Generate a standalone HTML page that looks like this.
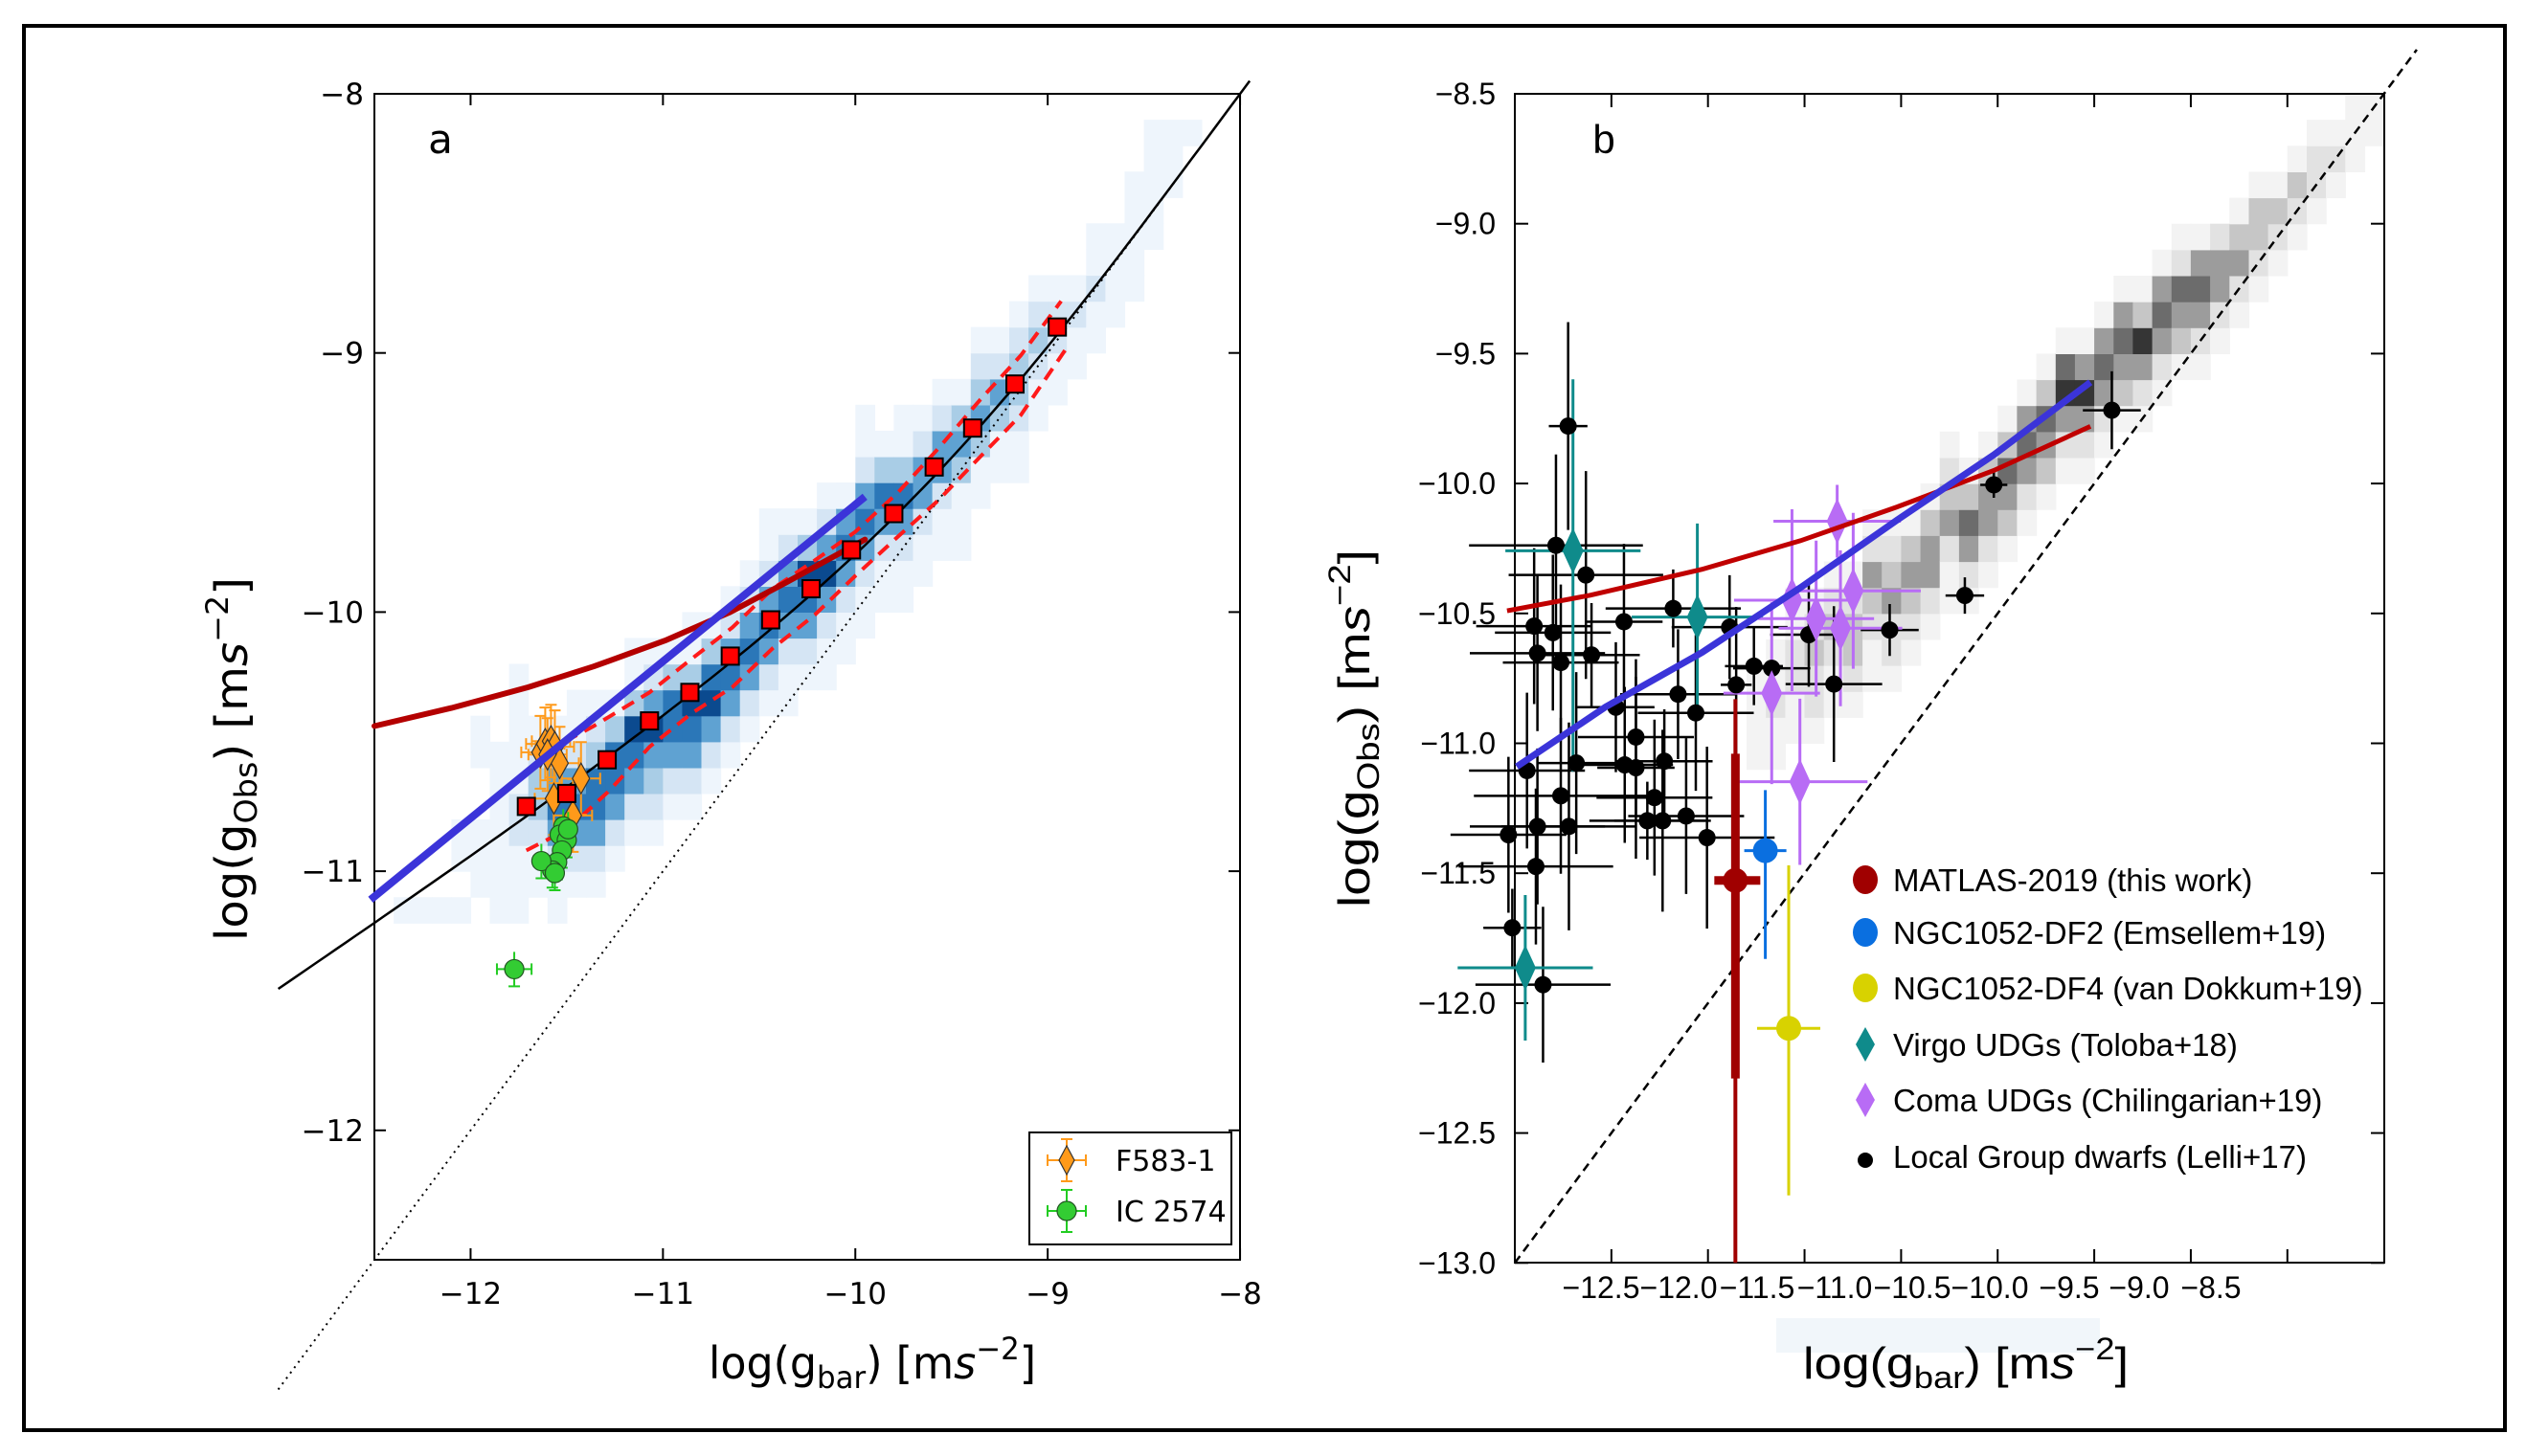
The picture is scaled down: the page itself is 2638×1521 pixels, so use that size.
<!DOCTYPE html>
<html><head><meta charset="utf-8"><title>Radial acceleration relation</title>
<style>
html,body{margin:0;padding:0;background:#fff;}
svg{display:block;}
.ta{font-family:"DejaVu Sans","Liberation Sans",sans-serif;}
.tb{font-family:"Liberation Sans","DejaVu Sans",sans-serif;}
</style></head>
<body>
<svg id="fig" width="2638" height="1521" viewBox="0 0 2638 1521">
<rect x="0" y="0" width="2638" height="1521" fill="#fff"/>
<rect x="25" y="27" width="2591" height="1467" fill="none" stroke="#000" stroke-width="4"/>
<defs>
<clipPath id="clipA"><rect x="391" y="98" width="904" height="1218"/></clipPath>
</defs>
<g id="gA">
 <g id="heatA" clip-path="url(#clipA)"></g>
 <rect x="391" y="98" width="904" height="1218" fill="none" stroke="#000" stroke-width="2"/>
 <text class="ta" x="460" y="160" font-size="42" text-anchor="middle">a</text>
 <text class="ta" x="911" y="1440" font-size="46" text-anchor="middle" textLength="342" lengthAdjust="spacingAndGlyphs">log(g<tspan font-size="32" dy="10">bar</tspan><tspan dy="-10">) [m</tspan><tspan font-style="italic">s</tspan><tspan font-size="32" dy="-20">−2</tspan><tspan dy="20">]</tspan></text>
 <text class="ta" transform="translate(258,793) rotate(-90)" font-size="46" text-anchor="middle" textLength="380" lengthAdjust="spacingAndGlyphs">log(g<tspan font-size="32" dy="10">Obs</tspan><tspan dy="-10">) [m</tspan><tspan font-style="italic">s</tspan><tspan font-size="32" dy="-20">−2</tspan><tspan dy="20">]</tspan></text>
 <g id="legA">
  <rect x="1075" y="1183" width="211" height="117" fill="#fff" stroke="#000" stroke-width="2"/>
  <text class="ta" x="1165" y="1223" font-size="30">F583-1</text>
  <text class="ta" x="1165" y="1276" font-size="30">IC 2574</text>
 </g>
</g>
<g id="gB">
 <g id="heatB"></g>
 <rect x="1582" y="98" width="908" height="1221" fill="none" stroke="#000" stroke-width="2"/>
 <text class="tb" x="1675" y="160" font-size="42" text-anchor="middle">b</text>
 <rect x="1855" y="1377" width="338" height="36" fill="#f1f6fa"/>
 <text class="tb" x="2053" y="1440" font-size="46" text-anchor="middle" textLength="340" lengthAdjust="spacingAndGlyphs">log(g<tspan font-size="32" dy="10">bar</tspan><tspan dy="-10">) [m</tspan><tspan font-style="italic">s</tspan><tspan font-size="32" dy="-20">−2</tspan><tspan dy="20">]</tspan></text>
 <text class="tb" transform="translate(1430,761) rotate(-90)" font-size="46" text-anchor="middle" textLength="374" lengthAdjust="spacingAndGlyphs">log(g<tspan font-size="32" dy="10">Obs</tspan><tspan dy="-10">) [m</tspan><tspan font-style="italic">s</tspan><tspan font-size="32" dy="-20">−2</tspan><tspan dy="20">]</tspan></text>
 <g id="legB"></g>
</g>
</svg>
<script>
// ---------- Panel A data ----------
const aXTicks = [-12, -11, -10, -9, -8];
const aYTicks = [-8, -9, -10, -11, -12];
const binX = [-12.4,-12.3,-12.2,-12.1,-12.0,-11.9,-11.8,-11.7,-11.6,-11.5,-11.4,-11.3,-11.2,-11.1,-11.0,-10.9,-10.8,-10.7,-10.6,-10.5,-10.4,-10.3,-10.2,-10.1,-10.0,-9.9,-9.8,-9.7,-9.6,-9.5,-9.4,-9.3,-9.2,-9.1,-9.0,-8.9,-8.8,-8.7,-8.6,-8.5,-8.4,-8.3];
const binY0 = [-11.2,-11.2,-11.2,-11.2,-11.1,-11.2,-11.2,-11.1,-11.2,-11.1,-11.1,-11.0,-10.9,-10.9,-10.8,-10.8,-10.7,-10.6,-10.5,-10.4,-10.4,-10.3,-10.3,-10.2,-10.1,-10.0,-10.0,-9.9,-9.8,-9.8,-9.6,-9.5,-9.5,-9.3,-9.2,-9.1,-9.0,-8.9,-8.8,-8.6,-8.4,-8.3];
const binLevels = ["1","1","1","1011","1110011","1111111","1112211111","1123321","11245421","12454211","12455321","1245531","12456311","12346421","1245531","12456311","1246531","1245421","1245421","12454211","11245421","1245631","11246421","1124541","112454211","1124531","11245311","1124421","1124421","1113431","1134321","113421","1123321","112321","11221","1121","11211","1111","11111","11111","111","01"];
const sqX = [-11.71,-11.50,-11.29,-11.07,-10.86,-10.65,-10.44,-10.23,-10.02,-9.80,-9.59,-9.39,-9.17,-8.95];
const sqY = [-10.75,-10.70,-10.57,-10.42,-10.31,-10.17,-10.03,-9.91,-9.76,-9.62,-9.44,-9.29,-9.12,-8.90];
const upX = [-11.61,-11.36,-11.07,-10.85,-10.64,-10.43,-10.21,-10.00,-9.78,-9.57,-9.35,-9.14,-8.93];
const upY = [-10.54,-10.44,-10.31,-10.18,-10.06,-9.91,-9.80,-9.69,-9.54,-9.37,-9.18,-9.01,-8.80];
const loX = [-11.71,-11.50,-11.28,-11.07,-10.85,-10.64,-10.43,-10.21,-10.00,-9.78,-9.57,-9.35,-9.14,-8.91];
const loY = [-10.92,-10.84,-10.69,-10.52,-10.39,-10.29,-10.14,-10.01,-9.86,-9.71,-9.57,-9.40,-9.24,-8.99];
const redAX = [-12.5,-12.1,-11.7,-11.36,-10.99,-10.65,-10.37,-9.95];
const redAY = [-10.44,-10.37,-10.29,-10.21,-10.11,-10.00,-9.89,-9.72];
const blueAX = [-12.52,-9.95];
const blueAY = [-11.11,-9.555];
const orX = [-11.637,-11.612,-11.582,-11.562,-11.537,-11.567,-11.426,-11.468,-11.600];
const orY = [-10.541,-10.509,-10.498,-10.520,-10.583,-10.720,-10.642,-10.785,-10.550];
const grX = [-11.518,-11.537,-11.500,-11.525,-11.550,-11.575,-11.632,-11.562,-11.493,-11.773];
const grY = [-10.827,-10.859,-10.880,-10.920,-10.965,-10.997,-10.961,-11.007,-10.838,-11.378];
const grXerr = [0.04,0.04,0.04,0.04,0.04,0.04,0.04,0.04,0.04,0.09];
const gDagger = 1.2e-10;

// ---------- Panel B data ----------
const bYTicks = [-8.5,-9.0,-9.5,-10.0,-10.5,-11.0,-11.5,-12.0,-12.5,-13.0];
const bXTicks = [-12.5,-12.0,-11.5,-11.0,-10.5,-10.0,-9.5,-9.0];
const bXLabels = ["−12.5","−12.0","−11.5","−11.0","−10.5","−10.0","−9.5","−9.0","−8.5"];
const gbX = [-11.8,-11.7,-11.6,-11.5,-11.4,-11.3,-11.2,-11.1,-11.0,-10.9,-10.8,-10.7,-10.6,-10.5,-10.4,-10.3,-10.2,-10.1,-10.0,-9.9,-9.8,-9.7,-9.6,-9.5,-9.4,-9.3,-9.2,-9.1,-9.0,-8.9,-8.8,-8.7,-8.6];
const gbY0 = [-11.1,-11.1,-11.0,-11.0,-10.9,-10.9,-10.8,-10.8,-10.7,-10.6,-10.5,-10.5,-10.4,-10.3,-10.2,-10.1,-10.0,-10.0,-9.9,-9.8,-9.8,-9.7,-9.6,-9.6,-9.5,-9.4,-9.3,-9.2,-9.1,-9.0,-8.9,-8.8,-8.7];
const gbLevels = ["1111","11211","112211","122321","112321","123321","1123421","1224321","123431","124431","1124321","124531","124431","134531","124541","134531","124651","124641","124541","134541","124631","124541","134521","124541","12442","12431","12331","1231","1231","1221","121","111","11"];
const redBX = [-13.04,-12.61,-12.03,-11.52,-11.02,-10.52,-10.02];
const redBY = [-10.49,-10.43,-10.33,-10.22,-10.09,-9.95,-9.78];
const blueBX = [-12.99,-12.53,-12.03,-11.52,-11.02,-10.52,-10.02];
const blueBY = [-11.09,-10.86,-10.65,-10.40,-10.14,-9.89,-9.61];
const lgX = [-12.724,-12.787,-12.632,-12.900,-12.803,-12.883,-12.762,-12.603,-12.435,-12.180,-11.888,-12.477,-12.373,-12.431,-12.373,-12.226,-12.155,-12.063,-12.277,-12.314,-12.235,-12.113,-12.005,-12.762,-12.883,-12.720,-13.033,-12.891,-13.013,-12.854,-12.937,-12.682,-11.854,-11.762,-11.670,-11.478,-11.348,-11.059,-10.670,-10.520,-9.909];
const lgY = [-9.779,-10.238,-10.352,-10.549,-10.574,-10.653,-10.689,-10.660,-10.532,-10.481,-10.553,-10.861,-10.976,-11.083,-11.094,-11.069,-10.811,-10.883,-11.209,-11.298,-11.298,-11.280,-11.363,-11.202,-11.320,-11.320,-11.352,-11.474,-11.710,-11.929,-11.105,-11.076,-10.775,-10.703,-10.711,-10.582,-10.772,-10.564,-10.431,-10.005,-9.718];
const lgXerr = [0.10,0.45,0.40,0.30,0.30,0.35,0.30,0.25,0.20,0.35,0.30,0.20,0.30,0.25,0.20,0.25,0.30,0.30,0.30,0.30,0.25,0.30,0.35,0.45,0.35,0.35,0.30,0.40,0.15,0.35,0.30,0.20,0.08,0.15,0.20,0.20,0.25,0.15,0.10,0.07,0.15];
const lgYerr = [0.40,0.35,0.40,0.30,0.30,0.30,0.30,0.20,0.30,0.15,0.20,0.25,0.30,0.30,0.35,0.20,0.25,0.30,0.30,0.15,0.35,0.30,0.35,0.30,0.30,0.40,0.30,0.30,0.15,0.30,0.30,0.35,0.30,0.15,0.15,0.20,0.30,0.10,0.07,0.05,0.15];
const virX = [-12.699,-12.055,-12.946];
const virY = [-10.259,-10.514,-11.864];
const virXerr = [0.35,0.34,0.35];
const virYup = [0.66,0.36,0.28];
const virYdn = [0.85,0.36,0.28];
const comX = [-11.331,-11.565,-11.248,-11.440,-11.314,-11.670,-11.524];
const comY = [-10.145,-10.449,-10.413,-10.520,-10.557,-10.807,-11.148];
const comXerr = [0.33,0.30,0.35,0.30,0.32,0.25,0.35];
const comYerr = [0.14,0.35,0.30,0.30,0.30,0.35,0.32];
const matX = [-11.858], matY = [-11.528];
const df2X = [-11.703], df2Y = [-11.413];
const df4X = [-11.582], df4Y = [-12.097];
const legBLabels = ["MATLAS-2019 (this work)","NGC1052-DF2 (Emsellem+19)","NGC1052-DF4 (van Dokkum+19)","Virgo UDGs (Toloba+18)","Coma UDGs (Chilingarian+19)","Local Group dwarfs (Lelli+17)"];

// ---------- helpers ----------
const svg = document.getElementById('fig');
const NS = svg.namespaceURI;
function mk(tag, attrs, parent){ const e=document.createElementNS(NS,tag); for(const k in attrs) e.setAttribute(k, attrs[k]); (parent||svg).appendChild(e); return e; }
const xa = v => 391 + (v + 12.5) * 200.9;
const ya = v => 98 + (-8 - v) * 270.7;
const xb = v => 1582 + (v + 13) * 201.7;
const yb = v => 98 + (-8.5 - v) * 271.4;
function pts(xs, ys, fx, fy){ return xs.map((x,i)=>fx(x).toFixed(1)+','+fy(ys[i]).toFixed(1)).join(' '); }

const gA = document.getElementById('gA');
const gB = document.getElementById('gB');
const heatA = document.getElementById('heatA');
const heatB = document.getElementById('heatB');
const legA = document.getElementById('legA');
const legB = document.getElementById('legB');

// ---------- Panel A heatmap ----------
const blues = ["#ffffff","#eef5fc","#d5e5f4","#a9cde6","#5fa2d2","#2b77b8","#0b4a8f"];
binX.forEach((x,i)=>{
  const s = binLevels[i];
  for(let k=0;k<s.length;k++){
    const lv = +s[k]; if(!lv) continue;
    const y0 = binY0[i] + 0.1*k;
    const c = mk('rect',{x:xa(x).toFixed(1), y:ya(y0+0.1).toFixed(1), width:(0.1*200.9+0.6).toFixed(1), height:(0.1*270.7+0.6).toFixed(1), fill:blues[lv]}, heatA);
    
    
  }
});

// ticks A
const tkA = mk('g',{stroke:'#000','stroke-width':2}, gA);


aXTicks.forEach(v=>{
  const t1 = mk('line',{x1:xa(v),x2:xa(v),y1:1316,y2:1304}, tkA);
  
  
  const t2 = mk('line',{x1:xa(v),x2:xa(v),y1:98,y2:110}, tkA);
  
  
  const l = mk('text',{x:xa(v), y:1362, 'font-size':31, 'text-anchor':'middle', class:'ta'}, gA);
  l.textContent = '−' + Math.abs(v);
  
  
});
aYTicks.forEach(v=>{
  const t1 = mk('line',{x1:391,x2:403,y1:ya(v),y2:ya(v)}, tkA);
  
  
  const t2 = mk('line',{x1:1295,x2:1283,y1:ya(v),y2:ya(v)}, tkA);
  
  
  const l = mk('text',{x:380, y:ya(v)+11, 'font-size':31, 'text-anchor':'end', class:'ta'}, gA);
  l.textContent = '−' + Math.abs(v);
  
  
});

// 1:1 dotted line A
const oneA = mk('line',{x1:xa(-13),y1:ya(-13),x2:xa(-8),y2:ya(-8),stroke:'#000','stroke-width':2,'stroke-dasharray':'2,5'}, gA);



// RAR model curve
const rarX = []; for(let v=-13.0; v<=-7.93; v+=0.05) rarX.push(v);
const rarY = rarX.map(v=>{ const g=Math.pow(10,v); return Math.log10(g/(1-Math.exp(-Math.sqrt(g/gDagger)))); });
const rar = mk('polyline',{points:pts(rarX,rarY,xa,ya),fill:'none',stroke:'#000','stroke-width':2.5}, gA);



// dashed scatter lines
const upL = mk('polyline',{points:pts(upX,upY,xa,ya),fill:'none',stroke:'#ff1a1a','stroke-width':4,'stroke-dasharray':'14,9'}, gA);


const loL = mk('polyline',{points:pts(loX,loY,xa,ya),fill:'none',stroke:'#ff1a1a','stroke-width':4,'stroke-dasharray':'14,9'}, gA);



// orange F583-1
orX.forEach((x,i)=>{
  const cx=xa(x), cy=ya(orY[i]);
  const e = mk('path',{d:`M${cx-20},${cy}H${cx+20}M${cx-20},${cy-6}V${cy+6}M${cx+20},${cy-6}V${cy+6}M${cx},${cy-38}V${cy+38}M${cx-6},${cy-38}H${cx+6}M${cx-6},${cy+38}H${cx+6}`,stroke:'#ff9a1a','stroke-width':2,fill:'none'}, gA);
  
  
});
orX.forEach((x,i)=>{
  const cx=xa(x), cy=ya(orY[i]);
  const m = mk('path',{d:`M${cx},${cy-16}L${cx+9},${cy}L${cx},${cy+16}L${cx-9},${cy}Z`,fill:'#ff9a1a',stroke:'#333','stroke-width':1.2}, gA);
  
  
});
// green IC 2574
grX.forEach((x,i)=>{
  const cx=xa(x), cy=ya(grY[i]), dx=grXerr[i]*200.9;
  const e = mk('path',{d:`M${cx-dx},${cy}H${cx+dx}M${cx-dx},${cy-6}V${cy+6}M${cx+dx},${cy-6}V${cy+6}M${cx},${cy-18}V${cy+18}M${cx-6},${cy+18}H${cx+6}`,stroke:'#22cc22','stroke-width':2,fill:'none'}, gA);
  
  
});
grX.forEach((x,i)=>{
  const m = mk('circle',{cx:xa(x),cy:ya(grY[i]),r:10,fill:'#33cc33',stroke:'#225522','stroke-width':1.2}, gA);
  
  
});

// red and blue curves A
const redA = mk('polyline',{points:pts(redAX,redAY,xa,ya),fill:'none',stroke:'#b40000','stroke-width':6,'stroke-linecap':'round','stroke-linejoin':'round'}, gA);


const blueA = mk('polyline',{points:pts(blueAX,blueAY,xa,ya),fill:'none',stroke:'#3b34d9','stroke-width':8}, gA);



// red squares
sqX.forEach((x,i)=>{
  const s = mk('rect',{x:xa(x)-9,y:ya(sqY[i])-9,width:18,height:18,fill:'#ff0000',stroke:'#000','stroke-width':2}, gA);
  
  
});

// legend A markers
{
  const cx=1114, cy=1212;
  const e1 = mk('path',{d:`M${cx-20},${cy}H${cx+20}M${cx-20},${cy-6}V${cy+6}M${cx+20},${cy-6}V${cy+6}M${cx},${cy-22}V${cy+22}M${cx-6},${cy-22}H${cx+6}M${cx-6},${cy+22}H${cx+6}`,stroke:'#ff9a1a','stroke-width':2,fill:'none'}, legA);
  
  
  const m1 = mk('path',{d:`M${cx},${cy-15}L${cx+8},${cy}L${cx},${cy+15}L${cx-8},${cy}Z`,fill:'#ff9a1a',stroke:'#333','stroke-width':1.2}, legA);
  
  
  const cy2=1265;
  const e2 = mk('path',{d:`M${cx-20},${cy2}H${cx+20}M${cx-20},${cy2-6}V${cy2+6}M${cx+20},${cy2-6}V${cy2+6}M${cx},${cy2-22}V${cy2+22}M${cx-6},${cy2-22}H${cx+6}M${cx-6},${cy2+22}H${cx+6}`,stroke:'#22cc22','stroke-width':2,fill:'none'}, legA);
  
  
  const m2 = mk('circle',{cx:cx,cy:cy2,r:10,fill:'#33cc33',stroke:'#225522','stroke-width':1.2}, legA);
  
  
}

// ---------- Panel B ----------
const greys = ["#ffffff","#f3f3f3","#e2e2e2","#c6c6c6","#9c9c9c","#6c6c6c","#353535"];
gbX.forEach((x,i)=>{
  const s = gbLevels[i];
  for(let k=0;k<s.length;k++){
    const lv=+s[k]; if(!lv) continue;
    const y0 = gbY0[i] + 0.1*k;
    const c = mk('rect',{x:xb(x).toFixed(1), y:yb(y0+0.1).toFixed(1), width:(0.1*201.7+0.6).toFixed(1), height:(0.1*271.4+0.6).toFixed(1), fill:greys[lv]}, heatB);
    
    
  }
});

const tkB = mk('g',{stroke:'#000','stroke-width':2}, gB);


bXTicks.forEach(v=>{
  const t1 = mk('line',{x1:xb(v),x2:xb(v),y1:1319,y2:1305}, tkB);
  
  
  const t2 = mk('line',{x1:xb(v),x2:xb(v),y1:98,y2:112}, tkB);
  
  
});
const bXLabelCenters = [1672,1753,1835,1916,1997,2078,2161,2234,2309];
bXLabels.forEach((s,i)=>{
  const l = mk('text',{x:bXLabelCenters[i], y:1356, 'font-size':32, 'text-anchor':'middle', class:'tb'}, gB);
  l.textContent = s;
  
  
});
bYTicks.forEach(v=>{
  const t1 = mk('line',{x1:1582,x2:1596,y1:yb(v),y2:yb(v)}, tkB);
  
  
  const t2 = mk('line',{x1:2490,x2:2476,y1:yb(v),y2:yb(v)}, tkB);
  
  
  const l = mk('text',{x:1562, y:yb(v)+11, 'font-size':32, 'text-anchor':'end', class:'tb'}, gB);
  l.textContent = '−' + Math.abs(v).toFixed(1);
  
  
});

const oneB = mk('line',{x1:xb(-13),y1:yb(-13),x2:xb(-8.33),y2:yb(-8.33),stroke:'#000','stroke-width':2.5,'stroke-dasharray':'9,6'}, gB);



// black local group points
lgX.forEach((x,i)=>{
  const cx=xb(x), cy=yb(lgY[i]), dx=lgXerr[i]*201.7, dy=lgYerr[i]*271.4;
  const e = mk('path',{d:`M${cx-dx},${cy}H${cx+dx}M${cx},${cy-dy}V${cy+dy}`,stroke:'#000','stroke-width':2.5,fill:'none'}, gB);
  
  
});
// virgo
virX.forEach((x,i)=>{
  const cx=xb(x), cy=yb(virY[i]), dx=virXerr[i]*201.7;
  const e = mk('path',{d:`M${cx-dx},${cy}H${cx+dx}M${cx},${cy-virYup[i]*271.4}V${cy+virYdn[i]*271.4}`,stroke:'#0f8b8b','stroke-width':3,fill:'none'}, gB);
  
  
});
// coma
comX.forEach((x,i)=>{
  const cx=xb(x), cy=yb(comY[i]), dx=comXerr[i]*201.7, dy=comYerr[i]*271.4;
  const e = mk('path',{d:`M${cx-dx},${cy}H${cx+dx}M${cx},${cy-dy}V${cy+dy}`,stroke:'#b86cf5','stroke-width':3,fill:'none'}, gB);
  
  
});
lgX.forEach((x,i)=>{
  const m = mk('circle',{cx:xb(x),cy:yb(lgY[i]),r:9,fill:'#000'}, gB);
  
  
});
virX.forEach((x,i)=>{
  const cx=xb(x), cy=yb(virY[i]);
  const m = mk('path',{d:`M${cx},${cy-24}L${cx+11},${cy}L${cx},${cy+24}L${cx-11},${cy}Z`,fill:'#0f8b8b'}, gB);
  
  
});
comX.forEach((x,i)=>{
  const cx=xb(x), cy=yb(comY[i]);
  const m = mk('path',{d:`M${cx},${cy-24}L${cx+11},${cy}L${cx},${cy+24}L${cx-11},${cy}Z`,fill:'#b86cf5'}, gB);
  
  
});

// red and blue curves B
const redB = mk('polyline',{points:pts(redBX,redBY,xb,yb),fill:'none',stroke:'#c00000','stroke-width':5}, gB);


const blueB = mk('polyline',{points:pts(blueBX,blueBY,xb,yb),fill:'none',stroke:'#3b34d9','stroke-width':7}, gB);



// special objects
{
  const cx=xb(matX[0]), cy=yb(matY[0]);
  const thin = mk('line',{x1:cx,x2:cx,y1:yb(-10.83),y2:yb(-13.0),stroke:'#a00000','stroke-width':4}, gB);
  
  
  const thick = mk('line',{x1:cx,x2:cx,y1:yb(-11.04),y2:yb(-12.29),stroke:'#a00000','stroke-width':9}, gB);
  
  
  const hx = mk('line',{x1:cx-22,x2:cx+26,y1:cy,y2:cy,stroke:'#a00000','stroke-width':9}, gB);
  
  
  const m = mk('circle',{cx:cx,cy:cy,r:13,fill:'#a00000'}, gB);
  
  
}
{
  const cx=xb(df2X[0]), cy=yb(df2Y[0]);
  const e = mk('path',{d:`M${cx-22},${cy}H${cx+22}M${cx},${yb(-11.18)}V${yb(-11.83)}`,stroke:'#0a6fe0','stroke-width':3,fill:'none'}, gB);
  
  
  const m = mk('circle',{cx:cx,cy:cy,r:13,fill:'#0a6fe0'}, gB);
  
  
}
{
  const cx=xb(df4X[0]), cy=yb(df4Y[0]);
  const e = mk('path',{d:`M${cx-33},${cy}H${cx+33}M${cx},${yb(-11.47)}V${yb(-12.74)}`,stroke:'#d8d200','stroke-width':3,fill:'none'}, gB);
  
  
  const m = mk('circle',{cx:cx,cy:cy,r:13,fill:'#d8d200'}, gB);
  
  
}

// legend B
const legBY = [919,974,1032,1091,1149,1208];
const legBColors = ['#a00000','#0a6fe0','#d8d200','#0f8b8b','#b86cf5','#000'];
legBLabels.forEach((s,i)=>{
  const cx=1948, cy=legBY[i];
  let m;
  if(i<3) m = mk('ellipse',{cx:cx,cy:cy,rx:13,ry:15,fill:legBColors[i]}, legB);
  else if(i<5) m = mk('path',{d:`M${cx},${cy-18}L${cx+10},${cy}L${cx},${cy+18}L${cx-10},${cy}Z`,fill:legBColors[i]}, legB);
  else m = mk('circle',{cx:cx,cy:cy+4,r:8,fill:'#000'}, legB);
  
  
  const t = mk('text',{x:1977,y:cy+12,'font-size':33,class:'tb'}, legB);
  t.textContent = s;
  
  
});
</script>
</body></html>
